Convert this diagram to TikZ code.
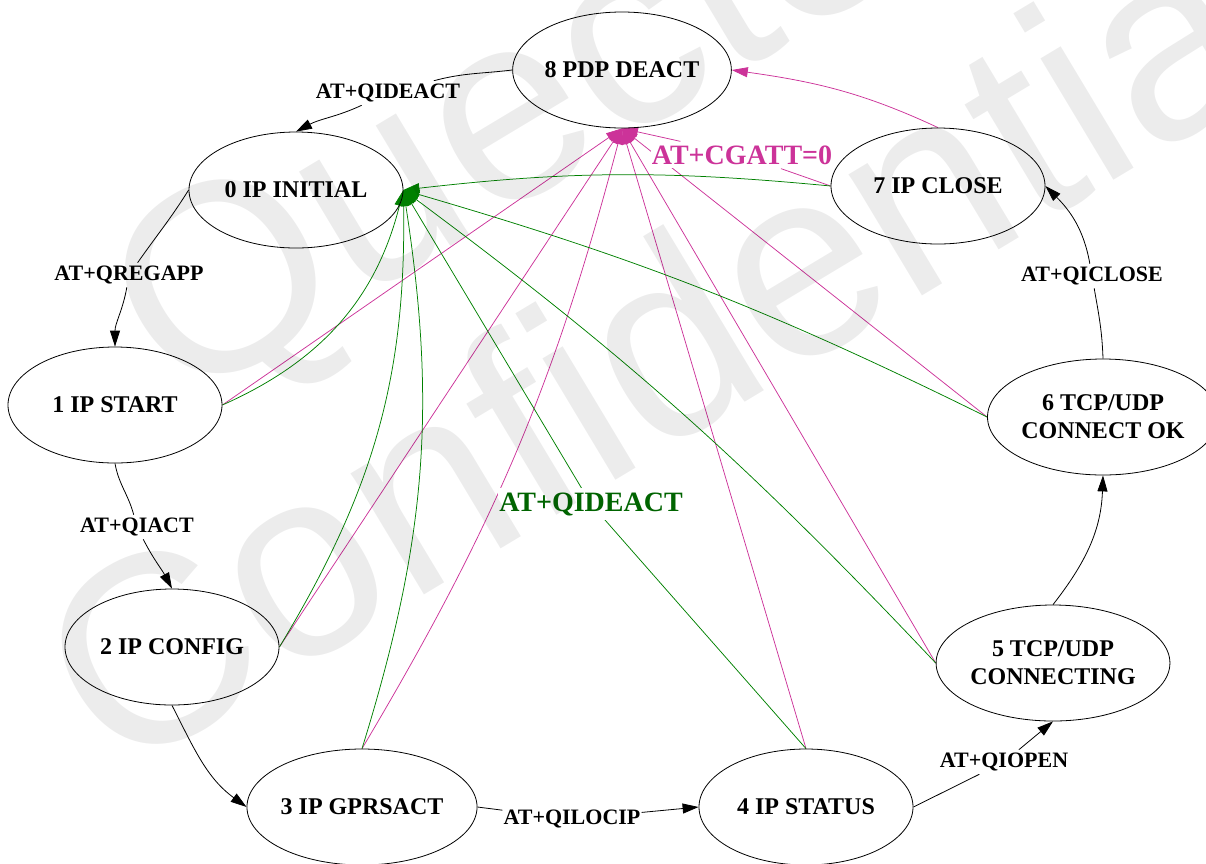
\documentclass[tikz,border=0pt]{standalone}
\usepackage{fontspec}
\setmainfont{Liberation Serif}
\newfontfamily\wmfont{Liberation Sans}
\usetikzlibrary{arrows.meta,shapes.geometric}
\definecolor{mag}{RGB}{204,51,153}
\definecolor{grn}{RGB}{0,128,0}
\definecolor{grnlbl}{RGB}{0,100,0}
\pgfdeclarelayer{edges}
\pgfdeclarelayer{wm}
\pgfsetlayers{edges,main,wm}
\begin{document}
\begin{tikzpicture}[x=1pt,y=1pt,
  state/.style={ellipse,draw,line width=0.8pt,minimum width=214pt,minimum height=116pt,
    inner sep=0pt,align=center,font=\fontsize{24}{28}\selectfont\bfseries},
  elabel/.style={fill=white,inner xsep=1pt,inner ysep=3pt,font=\fontsize{22}{26}\selectfont\bfseries},
  clabel/.style={fill=white,inner xsep=1pt,inner ysep=4pt,font=\fontsize{28}{32}\selectfont\bfseries},
  tr/.style={black,line width=0.8pt,-{Triangle[length=16pt,width=10pt]}},
  plain/.style={black,line width=0.8pt},
  mg/.style={mag,line width=0.75pt,-{Triangle[length=16pt,width=10pt]}},
  gn/.style={grn,line width=0.75pt,-{Triangle[length=16pt,width=10pt]}}
]
\useasboundingbox (0,0) rectangle (1206,-863);

% states
\node[state] (n8) at (622,-70) {8 PDP DEACT};
\node[state] (n0) at (296,-190) {0 IP INITIAL};
\node[state] (n7) at (938,-186) {7 IP CLOSE};
\node[state] (n1) at (115,-405) {1 IP START};
\node[state] (n6) at (1103,-417) {6 TCP/UDP\\CONNECT OK};
\node[state] (n2) at (172,-647) {2 IP CONFIG};
\node[state] (n5) at (1053,-663) {5 TCP/UDP\\CONNECTING};
\node[state] (n3) at (362,-807) {3 IP GPRSACT};
\node[state] (n4) at (806,-807) {4 IP STATUS};

% edge labels
\node[elabel] (l80) at (388,-93) {AT+QIDEACT};
\node[elabel] (l01) at (129,-275) {AT+QREGAPP};
\node[elabel] (l12) at (137,-527) {AT+QIACT};
\node[elabel] (l34) at (572,-819) {AT+QILOCIP};
\node[elabel] (l45) at (1004,-762) {AT+QIOPEN};
\node[elabel] (l67) at (1092,-276) {AT+QICLOSE};
\node[clabel,text=mag] (lcg) at (742,-155) {AT+CGATT=0};
\node[clabel,text=grnlbl] (lqg) at (591,-504) {AT+QIDEACT};

\begin{pgfonlayer}{edges}
% main sequence (black)
\draw[plain] (n8.west) to[out=187,in=15] (l80);
\draw[tr] (l80) to[out=205,in=28] (n0.north);
\draw[plain] (n0.west) to[out=238,in=55] (l01);
\draw[tr] (l01) to[out=-100,in=90] (n1.north);
\draw[plain] (n1.south) to[out=-80,in=105] (l12);
\draw[tr] (l12) to[out=-63,in=118] (n2.north);
\draw[tr] (n2.south) to[out=-63,in=144] (n3.west);
\draw[plain] (n3.east) -- (l34);
\draw[tr] (l34) -- (n4.west);
\draw[plain] (n4.east) -- (l45);
\draw[tr] (l45) -- (n5.south);
\draw[tr] (n5.north) to[out=52,in=-92] (n6.south);
\draw[plain] (n6.north) to[out=92,in=-80] (l67);
\draw[tr] (l67) to[out=100,in=-45] (n7.east);
\draw[mg] (n7.north) to[out=155,in=-8] (n8.east);

% AT+CGATT=0 : every state to 8 PDP DEACT
\draw[mg] (n1.east) -- (n8.south);
\draw[mg] (n2.east) -- (n8.south);
\draw[mg] (n3.north) to[bend right=8] (n8.south);
\draw[mg] (n4.north) -- (n8.south);
\draw[mg] (n5.west) -- (n8.south);
\draw[mg] (n6.west) -- (n8.south);
\draw[mg] (n7.west) -- (lcg) -- (n8.south);

% AT+QIDEACT : every state to 0 IP INITIAL
\draw[gn] (n1.east) to[bend right=26] (n0.east);
\draw[gn] (n2.east) to[bend right=16] (n0.east);
\draw[gn] (n3.north) to[bend right=13] (n0.east);
\draw[gn] (n4.north) -- (lqg) -- (n0.east);
\draw[gn] (n5.west) to[bend right=5] (n0.east);
\draw[gn] (n6.west) to[bend right=5] (n0.east);
\draw[gn] (n7.west) to[bend right=6] (n0.east);
\end{pgfonlayer}

\begin{pgfonlayer}{wm}
\node[rotate=31,opacity=0.075,text=black,align=center,
  font=\wmfont\fontsize{268}{285}\selectfont] (wmk) at (599,-212) {Quectel\\Confidential};
\end{pgfonlayer}
\end{tikzpicture}
\end{document}
